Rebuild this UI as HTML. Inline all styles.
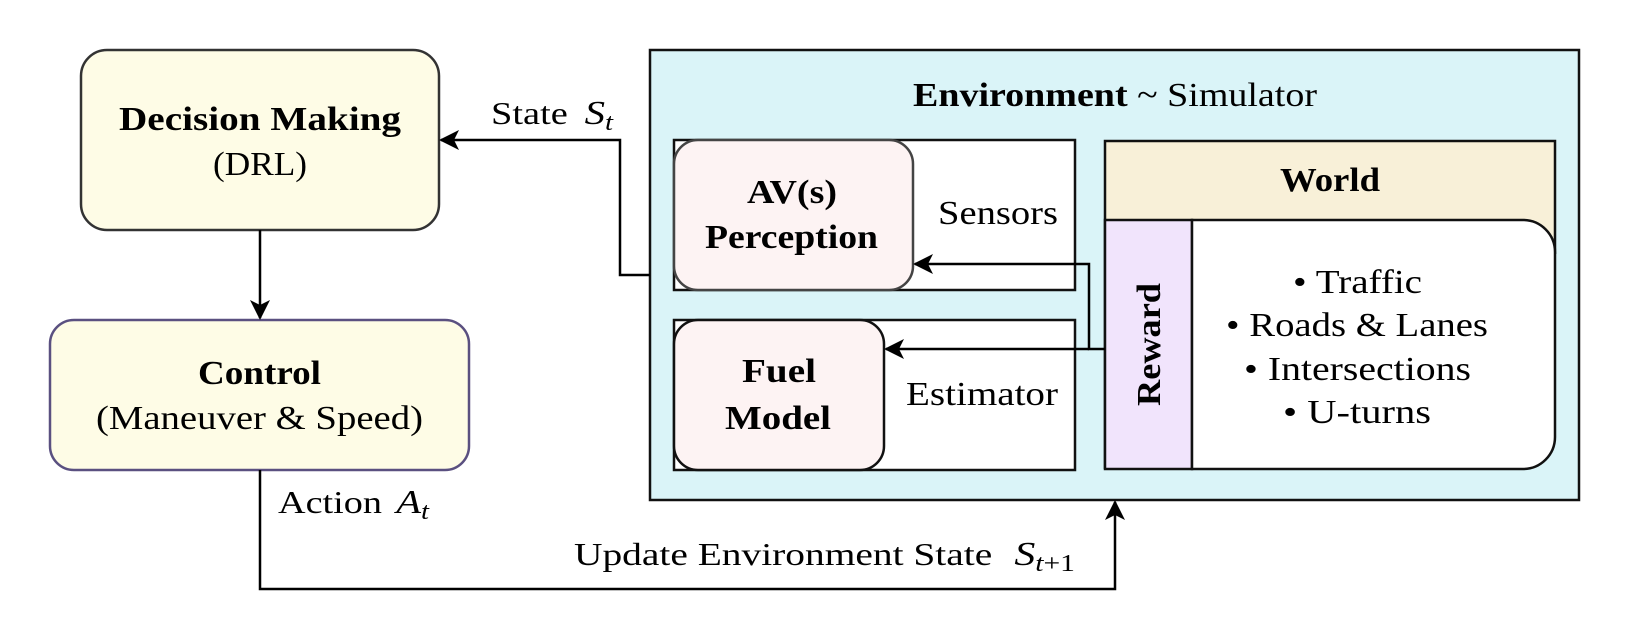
<!DOCTYPE html>
<html><head><meta charset="utf-8"><style>
html,body{margin:0;padding:0;background:#fff;}
svg{display:block;font-family:"Liberation Serif",serif;}
</style></head><body>
<svg width="1630" height="638" viewBox="0 0 1630 638" xmlns="http://www.w3.org/2000/svg">
<defs>
<marker id="ah" viewBox="0 0 20 20" refX="18" refY="10" markerWidth="20" markerHeight="20" markerUnits="userSpaceOnUse" orient="auto">
<path d="M0,0 L20,10 L0,20 L5,10 Z" fill="#000"/>
</marker>
</defs>
<rect x="650" y="50" width="929" height="450" fill="#DAF4F8" stroke="#111" stroke-width="2.5"/>
<text x="913" y="106" font-size="34" textLength="404" lengthAdjust="spacingAndGlyphs"><tspan font-weight="bold">Environment</tspan> ~ Simulator</text>

<rect x="674" y="140" width="401" height="150" fill="#fff" stroke="#111" stroke-width="2.5"/>
<rect x="674" y="140" width="239" height="150" rx="24" fill="#FDF3F3" stroke="#444" stroke-width="2.5"/>
<text x="747" y="203" font-size="34" font-weight="bold" textLength="90" lengthAdjust="spacingAndGlyphs">AV(s)</text>
<text x="705" y="248" font-size="34" font-weight="bold" textLength="173" lengthAdjust="spacingAndGlyphs">Perception</text>
<text x="938" y="224" font-size="34" textLength="120" lengthAdjust="spacingAndGlyphs">Sensors</text>

<rect x="674" y="320" width="401" height="150" fill="#fff" stroke="#111" stroke-width="2.5"/>
<rect x="674" y="320" width="210" height="150" rx="24" fill="#FDF3F3" stroke="#111" stroke-width="2.5"/>
<text x="742" y="382" font-size="34" font-weight="bold" textLength="74" lengthAdjust="spacingAndGlyphs">Fuel</text>
<text x="725" y="429" font-size="34" font-weight="bold" textLength="106" lengthAdjust="spacingAndGlyphs">Model</text>
<text x="906" y="405" font-size="34" textLength="152" lengthAdjust="spacingAndGlyphs">Estimator</text>

<rect x="1105" y="141" width="450" height="120" fill="#F8F0D8"/>
<path d="M1105,469 V141 H1555 V254" fill="none" stroke="#111" stroke-width="2.5"/>
<text x="1280" y="191" font-size="34" font-weight="bold" textLength="100" lengthAdjust="spacingAndGlyphs">World</text>
<rect x="1105" y="220" width="87" height="249" fill="#F1E4FC" stroke="#111" stroke-width="2.5"/>
<path d="M1192,220 H1523 A32,32 0 0 1 1555,252 V437 A32,32 0 0 1 1523,469 H1192 Z" fill="#fff" stroke="#111" stroke-width="2.5"/>
<text transform="translate(1160,406) rotate(-90)" font-size="34" font-weight="bold" textLength="123" lengthAdjust="spacingAndGlyphs">Reward</text>
<g font-size="34">
<text x="1293" y="293" textLength="129" lengthAdjust="spacingAndGlyphs">• Traffic</text>
<text x="1226" y="336" textLength="262" lengthAdjust="spacingAndGlyphs">• Roads &amp; Lanes</text>
<text x="1244" y="380" textLength="227" lengthAdjust="spacingAndGlyphs">• Intersections</text>
<text x="1283" y="423" textLength="148" lengthAdjust="spacingAndGlyphs">• U-turns</text>
</g>

<polyline points="1105,349 1089,349 1089,264 915,264" fill="none" stroke="#000" stroke-width="2.5" marker-end="url(#ah)"/>
<polyline points="1089,349 886,349" fill="none" stroke="#000" stroke-width="2.5" marker-end="url(#ah)"/>

<rect x="81" y="50" width="358" height="180" rx="26" fill="#FEFCE6" stroke="#333" stroke-width="2.5"/>
<text x="119" y="130" font-size="34" font-weight="bold" textLength="282" lengthAdjust="spacingAndGlyphs">Decision Making</text>
<text x="213" y="175" font-size="34" textLength="94" lengthAdjust="spacingAndGlyphs">(DRL)</text>

<rect x="50" y="320" width="419" height="150" rx="24" fill="#FEFCE6" stroke="#5A5080" stroke-width="2.5"/>
<text x="198" y="384" font-size="34" font-weight="bold" textLength="123" lengthAdjust="spacingAndGlyphs">Control</text>
<text x="96" y="429" font-size="34" textLength="327" lengthAdjust="spacingAndGlyphs">(Maneuver &amp; Speed)</text>

<line x1="260" y1="230" x2="260" y2="318" stroke="#000" stroke-width="2.5" marker-end="url(#ah)"/>
<polyline points="650,275 620,275 620,140 441,140" fill="none" stroke="#000" stroke-width="2.5" marker-end="url(#ah)"/>
<polyline points="260,470 260,589 1115,589 1115,502" fill="none" stroke="#000" stroke-width="2.5" marker-end="url(#ah)"/>

<text x="491" y="124" font-size="32" textLength="122" lengthAdjust="spacingAndGlyphs">State <tspan font-style="italic" font-size="34" dx="6">S</tspan><tspan font-style="italic" font-size="24" dy="6">t</tspan></text>
<text x="278" y="513" font-size="32" textLength="151" lengthAdjust="spacingAndGlyphs">Action <tspan font-style="italic" font-size="34" dx="4">A</tspan><tspan font-style="italic" font-size="24" dy="6">t</tspan></text>
<text x="574" y="565" font-size="32" textLength="501" lengthAdjust="spacingAndGlyphs">Update Environment State <tspan font-style="italic" font-size="34" dx="10">S</tspan><tspan font-size="24" dy="6"><tspan font-style="italic">t</tspan>+1</tspan></text>
</svg>
</body></html>
